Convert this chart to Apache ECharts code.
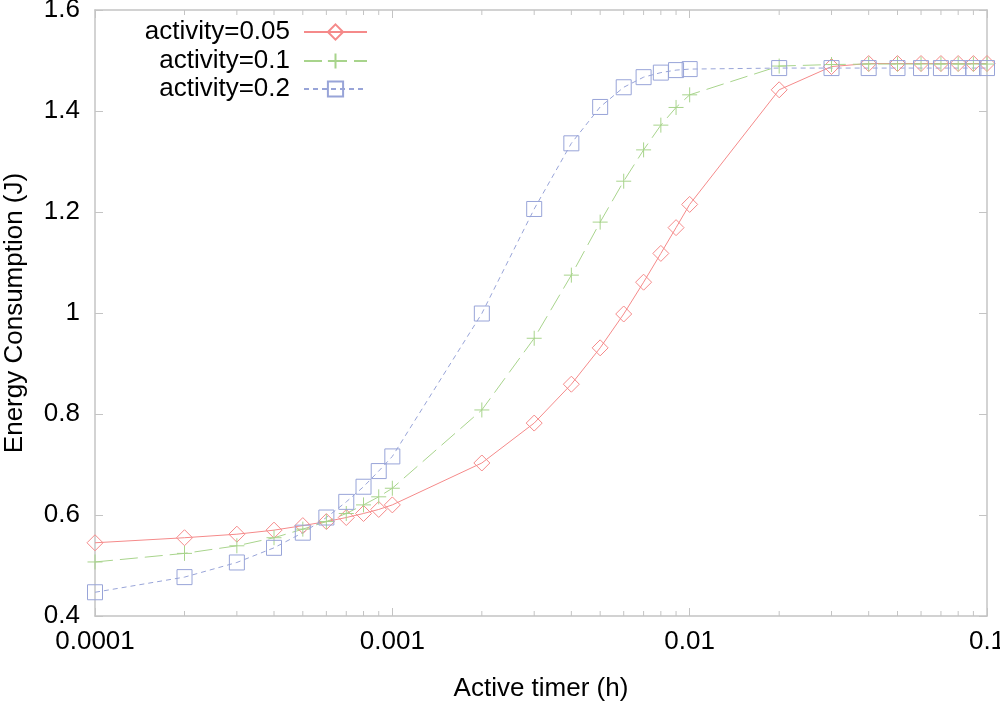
<!DOCTYPE html>
<html>
<head>
<meta charset="utf-8">
<script src="https://cdn.jsdelivr.net/npm/echarts@6/dist/echarts.min.js"></script>
<style>
  html, body { margin: 0; padding: 0; background: #fff; }
  #main { width: 1000px; height: 702px; }
</style>
</head>
<body>
<div id="main"></div>
<script>
// timer values (h)
var timer = [0.0001, 0.0002, 0.0003, 0.0004, 0.0005, 0.0006, 0.0007, 0.0008, 0.0009,
             0.001, 0.002, 0.003, 0.004, 0.005, 0.006, 0.007, 0.008, 0.009,
             0.01, 0.02, 0.03, 0.04, 0.05, 0.06, 0.07, 0.08, 0.09, 0.1];

var act005 = [0.545, 0.555, 0.562, 0.570, 0.579, 0.587, 0.595, 0.603, 0.611,
              0.620, 0.703, 0.782, 0.859, 0.931, 0.998, 1.061, 1.118, 1.169,
              1.215, 1.442, 1.488, 1.494, 1.494, 1.494, 1.494, 1.494, 1.494, 1.494];
var act01 = [0.507, 0.524, 0.539, 0.555, 0.572, 0.587, 0.603, 0.620, 0.636,
             0.653, 0.808, 0.950, 1.075, 1.180, 1.261, 1.323, 1.372, 1.407,
             1.432, 1.489, 1.492, 1.493, 1.493, 1.493, 1.493, 1.493, 1.493, 1.493];
var act02 = [0.447, 0.477, 0.506, 0.535, 0.565, 0.595, 0.626, 0.656, 0.687,
             0.716, 0.999, 1.206, 1.336, 1.408, 1.447, 1.467, 1.476, 1.481,
             1.483, 1.485, 1.485, 1.485, 1.485, 1.485, 1.485, 1.485, 1.485, 1.485];

var xTickLabels = {'0.0001': '0.0001', '0.001': '0.001', '0.01': '0.01', '0.1': '0.1'};
var minorTicks = [0.0002, 0.0003, 0.0004, 0.0005, 0.0006, 0.0007, 0.0008, 0.0009,
                  0.002, 0.003, 0.004, 0.005, 0.006, 0.007, 0.008, 0.009,
                  0.02, 0.03, 0.04, 0.05, 0.06, 0.07, 0.08, 0.09];

var names = ['activity=0.05', 'activity=0.1', 'activity=0.2'];
var colors = ['#f58a8a', '#a8d48c', '#98a4d8'];
var frame = '#c4c4c4';
var font = 'Liberation Sans, Arial, sans-serif';

function pair(ys) {
    var out = [];
    for (let i = 0; i < timer.length; i++) {
        out.push([timer[i], ys[i]]);
    }
    return out;
}

var myChart = echarts.init(document.getElementById('main'));

function legendFor(i, top) {
    return {
        data: [names[i]],
        right: 632,
        top: top,
        padding: 0,
        align: 'right',
        orient: 'vertical',
        itemWidth: 63,
        itemHeight: 19,
        selectedMode: false,
        textStyle: { fontSize: 26, color: '#000', fontFamily: font, padding: [0, 9, 0, 0] }
    };
}

var axisLine = { show: true, lineStyle: { color: frame, width: 1.5 } };

var option = {
    animation: false,
    textStyle: { fontFamily: font },
    grid: { left: 95, right: 13, top: 10, bottom: 86, outerBoundsMode: 'none' },
    legend: [legendFor(0, 19), legendFor(1, 48), legendFor(2, 76)],
    xAxis: [{
        type: 'log',
        logBase: 10,
        min: 0.0001,
        max: 0.1,
        position: 'bottom',
        name: 'Active timer (h)',
        nameLocation: 'middle',
        nameGap: 60,
        nameTextStyle: { fontSize: 26, color: '#000' },
        axisLine: axisLine,
        axisTick: { inside: true, length: 8, lineStyle: { color: frame } },
        axisLabel: {
            fontSize: 26, color: '#000', margin: 13,
            formatter: function (v) {
                var k = String(Number(v.toPrecision(3)));
                return xTickLabels[k] !== undefined ? xTickLabels[k] : '';
            }
        },
        splitLine: { show: false }
    }, {
        type: 'log',
        logBase: 10,
        min: 0.0001,
        max: 0.1,
        position: 'top',
        axisLine: axisLine,
        axisTick: { inside: true, length: 8, lineStyle: { color: frame } },
        axisLabel: { show: false },
        splitLine: { show: false }
    }],
    yAxis: [{
        type: 'value',
        min: 0.4,
        max: 1.6,
        interval: 0.2,
        position: 'left',
        name: 'Energy Consumption (J)',
        nameLocation: 'middle',
        nameGap: 67,
        nameTextStyle: { fontSize: 26, color: '#000' },
        axisLine: axisLine,
        axisTick: { inside: true, length: 8, lineStyle: { color: frame } },
        axisLabel: { fontSize: 26, color: '#000', margin: 15 },
        splitLine: { show: false }
    }, {
        type: 'value',
        min: 0.4,
        max: 1.6,
        interval: 0.2,
        position: 'right',
        axisLine: axisLine,
        axisTick: { inside: true, length: 8, lineStyle: { color: frame } },
        axisLabel: { show: false },
        splitLine: { show: false }
    }],
    series: [{
        // minor log ticks on bottom and top frame
        type: 'custom',
        silent: true,
        clip: false,
        xAxisIndex: 0,
        yAxisIndex: 0,
        data: minorTicks.map(function (t) { return [t]; }),
        renderItem: function (params, api) {
            var b = api.coord([api.value(0), 0.4]);
            var t = api.coord([api.value(0), 1.6]);
            var st = { stroke: frame, lineWidth: 1 };
            return {
                type: 'group',
                children: [
                    { type: 'line', shape: { x1: b[0], y1: b[1], x2: b[0], y2: b[1] - 5 }, style: st },
                    { type: 'line', shape: { x1: t[0], y1: t[1], x2: t[0], y2: t[1] + 5 }, style: st }
                ]
            };
        }
    }, {
        name: names[0],
        type: 'line',
        data: pair(act005),
        symbol: 'diamond',
        symbolSize: 16,
        color: colors[0],
        lineStyle: { color: colors[0], width: 1, type: 'solid' },
        itemStyle: { color: 'rgba(255,255,255,0)', borderColor: colors[0], borderWidth: 1 }
    }, {
        name: names[1],
        type: 'line',
        data: pair(act01),
        symbol: 'path://M7,0L7,14M0,7L14,7',
        symbolSize: 15,
        color: colors[1],
        lineStyle: { color: colors[1], width: 1, type: [18, 7] },
        itemStyle: { color: 'rgba(255,255,255,0)', borderColor: colors[1], borderWidth: 1 }
    }, {
        name: names[2],
        type: 'line',
        data: pair(act02),
        symbol: 'rect',
        symbolSize: 15,
        color: colors[2],
        lineStyle: { color: colors[2], width: 1, type: [5, 4] },
        itemStyle: { color: 'rgba(255,255,255,0)', borderColor: colors[2], borderWidth: 1 }
    }]
};

myChart.setOption(option);
</script>
</body>
</html>
